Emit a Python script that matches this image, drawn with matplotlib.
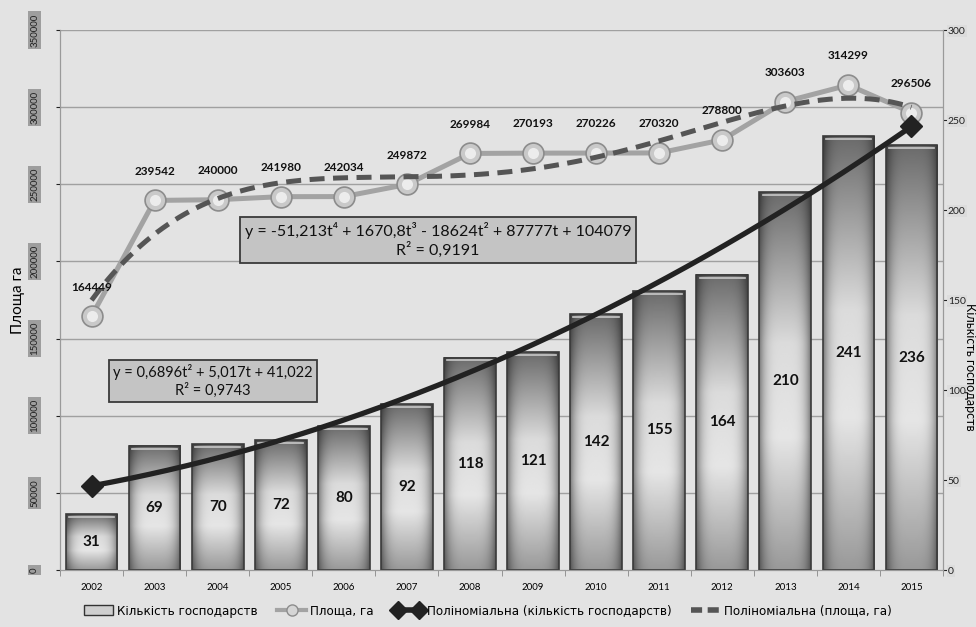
import numpy as np
import matplotlib
matplotlib.use("Agg")
import matplotlib.pyplot as plt
from matplotlib.lines import Line2D
from matplotlib.patches import Rectangle, Patch
from matplotlib.legend_handler import HandlerLine2D

years = [str(y) for y in range(2002, 2016)]
farms = [31, 69, 70, 72, 80, 92, 118, 121, 142, 155, 164, 210, 241, 236]
area = [164449, 239542, 240000, 241980, 242034, 249872, 269984,
        270193, 270226, 270320, 278800, 303603, 314299, 296506]

# trend coefficients as printed on the chart (t = 1 .. 14)
farms_trend = [0.6896, 5.017, 41.022]
area_trend = [-51.213, 1670.8, -18624, 87777, 104079]

area_ticks = list(range(0, 350001, 50000))
farm_ticks = list(range(0, 301, 50))

label_font = ["Lato", "DejaVu Sans"]

fig = plt.figure(figsize=(9.76, 6.27), dpi=100, facecolor="#e3e3e3")
ax = fig.add_axes([60 / 976, 1 - 570 / 627, 883 / 976, 540 / 627])
ax2 = ax.twinx()
ax2.set_zorder(1)
ax.set_zorder(2)
ax.patch.set_visible(False)
ax2.set_facecolor("#f4f4f4")

x = np.arange(len(years))
ax.set_xlim(-0.5, len(years) - 0.5)
ax.set_ylim(0, 350000)
ax2.set_ylim(0, 300)

# gridlines for the left axis, kept under the bars
for v in area_ticks[1:]:
    ax2.plot([-0.5, len(years) - 0.5], [v, v], transform=ax.transData,
             color="#a0a0a0", lw=1, zorder=0)

# gradient bars
w = 0.82
gy = np.linspace(0, 1, 200)[:, None]
gx = np.linspace(0, 1, 60)[None, :]
vert = np.interp(gy, [0, 0.35, 0.6, 1], [0.6, 0.9, 0.86, 0.42])
horiz = 1 - 0.45 * np.abs(2 * gx - 1) ** 4
grad = vert * horiz
for xi, h in zip(x, farms):
    ax2.imshow(grad, extent=[xi - w / 2, xi + w / 2, 0, h], origin="lower",
               cmap="gray", vmin=0, vmax=1, aspect="auto",
               interpolation="bicubic", zorder=2)
    ax2.add_patch(Rectangle((xi - w / 2, 0), w, h, fill=False,
                            edgecolor="#3a3a3a", lw=1.2, zorder=3))
    ax2.plot([xi - w / 2 + 0.05, xi + w / 2 - 0.05], [h - 1.6, h - 1.6],
             color="#c8c8c8", lw=1.2, zorder=3)
    ax2.text(xi, h / 2, str(h), ha="center", va="center", fontsize=11,
             fontweight="bold", family=label_font, color="#111111", zorder=4)
ax2.set_xlim(-0.5, len(years) - 0.5)
ax2.set_ylim(0, 300)

# area line with glossy circles
ax.plot(x, area, color="#a3a3a3", lw=3.6, zorder=3)
ax.plot(x, area, ls="none", marker="o", ms=15, mfc="#c9c9c9",
        mec="#8c8c8c", mew=1.2, zorder=4)
ax.plot(x, area, ls="none", marker="o", ms=8, mfc="#ececec",
        mec="none", zorder=4)
for xi, v in zip(x, area):
    ax.annotate(str(v), (xi, v), xytext=(0, 21), textcoords="offset points",
                ha="center", va="center", fontsize=8.5, fontweight="bold",
                family=label_font, color="#111111", zorder=6)

# trend lines
t = np.linspace(1, len(years), 300)
ax.plot(t - 1, np.polyval(area_trend, t), color="#555555", lw=3.6,
        dashes=(3, 1.7), zorder=5)
ax.plot(t - 1, np.polyval(farms_trend, t), color="#222222", lw=3.8,
        marker="D", ms=11, markevery=[0, -1], transform=ax2.transData,
        zorder=6)

# equation boxes
box = dict(boxstyle="square,pad=0.3", facecolor="#c4c4c4",
           edgecolor="#3a3a3a", lw=1.3)
ax.text(0.428, 0.611,
        "y = -51,213t⁴ + 1670,8t³ - 18624t² + 87777t + 104079\nR² = 0,9191",
        transform=ax.transAxes, ha="center", va="center",
        multialignment="center", fontsize=11.5, family=label_font,
        color="#111111", bbox=box, zorder=7)
ax.text(0.173, 0.35, "y = 0,6896t² + 5,017t + 41,022\nR² = 0,9743",
        transform=ax.transAxes, ha="center", va="center",
        multialignment="center", fontsize=10.5, family=label_font,
        color="#111111", bbox=box, zorder=7)

# axes styling
ax.set_yticks(area_ticks)
ax.set_yticklabels([str(v) for v in area_ticks], rotation=90, va="center",
                   fontsize=7, family=label_font)
for lbl in ax.get_yticklabels():
    lbl.set_bbox(dict(boxstyle="square,pad=0.2", facecolor="#9e9e9e",
                      edgecolor="none"))
ax.tick_params(axis="y", length=3, pad=12, colors="#222222")
ax2.set_yticks(farm_ticks)
ax2.set_yticklabels([str(v) for v in farm_ticks], fontsize=7.5,
                    family=label_font)
for lbl in ax2.get_yticklabels():
    lbl.set_bbox(dict(boxstyle="square,pad=0.1", facecolor="#dcdcdc",
                      edgecolor="none"))
ax2.tick_params(axis="y", length=3, pad=0.5, colors="#222222")

ax.set_xticks(x)
ax.set_xticklabels(years, fontsize=7, family=label_font)
ax.set_xticks(np.arange(-0.5, len(years), 1), minor=True)
ax.tick_params(axis="x", which="major", length=0, pad=9)
ax.tick_params(axis="x", which="minor", length=4, color="#888888")
ax2.tick_params(axis="x", length=0)
for a in (ax, ax2):
    for s in a.spines.values():
        s.set_color("#9a9a9a")
    a.spines["top"].set_visible(False)

fig.text(18 / 976, 1 - 300 / 627, "Площа га", rotation=90, ha="center",
         va="center", fontsize=11, family=label_font)
fig.text(970 / 976, 1 - 303 / 627, "Кількість господарств", rotation=270,
         ha="center", va="top", fontsize=9, family=label_font)

# legend
h_bar = Patch(facecolor="#cfcfcf", edgecolor="#333333")
h_area = Line2D([], [], color="#a3a3a3", lw=3, marker="o", ms=8,
                mfc="#d5d5d5", mec="#8c8c8c")
h_ft = Line2D([], [], color="#222222", lw=4, marker="D", ms=9)
h_at = Line2D([], [], color="#555555", lw=4, dashes=(2, 1))
fig.legend([h_bar, h_area, h_ft, h_at],
           ["Кількість господарств", "Площа, га",
            "Поліноміальна (кількість господарств)",
            "Поліноміальна (площа, га)"],
           loc="center", bbox_to_anchor=(0.5, 1 - 611 / 627), ncol=4,
           frameon=False,
           prop={"family": "DejaVu Sans", "stretch": "condensed", "size": 9.5},
           handlelength=2.2, columnspacing=1.5, handletextpad=0.3,
           handler_map={h_area: HandlerLine2D(numpoints=1),
                        h_ft: HandlerLine2D(numpoints=2)})

fig.savefig("out.png", dpi=100, facecolor=fig.get_facecolor())
